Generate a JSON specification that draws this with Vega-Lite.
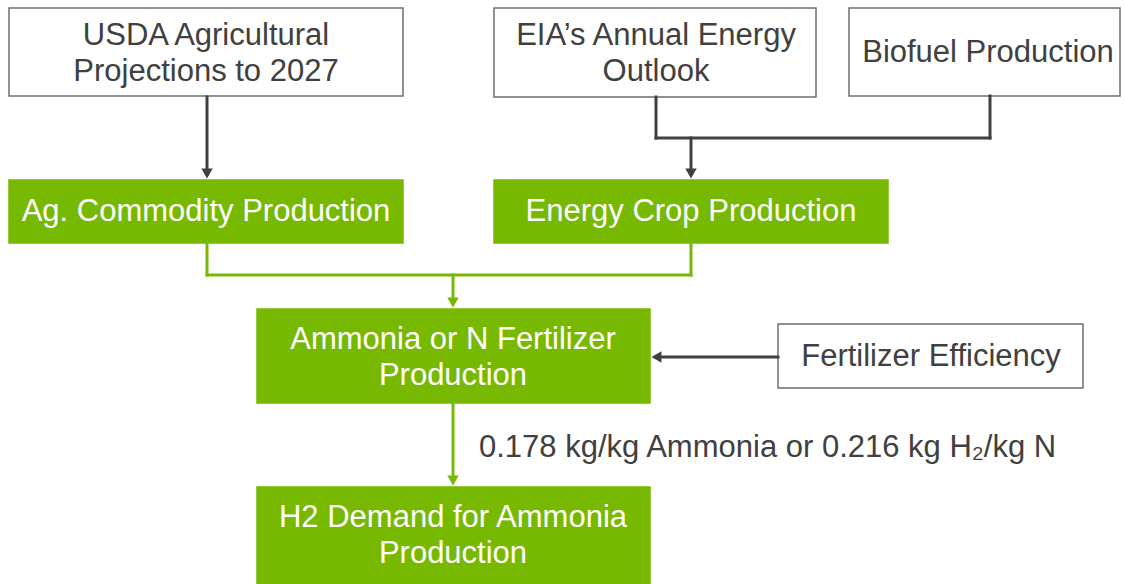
{
  "$schema": "https://vega.github.io/schema/vega-lite/v6.json",
  "width": 1124,
  "height": 584,
  "padding": 0,
  "autosize": {"type": "none"},
  "background": "white",
  "config": {"view": {"stroke": null}},
  "datasets": {
    "boxes": [
      {"name": "USDA", "x1": 9, "x2": 403, "y1": 8, "y2": 96, "kind": "source"},
      {"name": "EIA", "x1": 494, "x2": 816, "y1": 8, "y2": 97, "kind": "source"},
      {"name": "Biofuel", "x1": 849, "x2": 1120, "y1": 8, "y2": 96, "kind": "source"},
      {"name": "Ag", "x1": 9, "x2": 403, "y1": 180, "y2": 243, "kind": "process"},
      {"name": "Energy", "x1": 494, "x2": 888, "y1": 180, "y2": 243, "kind": "process"},
      {"name": "Ammonia", "x1": 257, "x2": 650, "y1": 309, "y2": 403, "kind": "process"},
      {"name": "FertEff", "x1": 778, "x2": 1083, "y1": 324, "y2": 388, "kind": "source"},
      {"name": "H2", "x1": 257, "x2": 650, "y1": 487, "y2": 590, "kind": "process"}
    ],
    "links": [
      {"x1": 207, "y1": 97, "x2": 207, "y2": 174, "kind": "source"},
      {"x1": 656, "y1": 97, "x2": 656, "y2": 138, "kind": "source"},
      {"x1": 990, "y1": 96, "x2": 990, "y2": 138, "kind": "source"},
      {"x1": 656, "y1": 138, "x2": 990, "y2": 138, "kind": "source"},
      {"x1": 691, "y1": 138, "x2": 691, "y2": 174, "kind": "source"},
      {"x1": 778, "y1": 357, "x2": 656, "y2": 357, "kind": "source"},
      {"x1": 207, "y1": 243, "x2": 207, "y2": 275, "kind": "process"},
      {"x1": 691, "y1": 243, "x2": 691, "y2": 275, "kind": "process"},
      {"x1": 207, "y1": 275, "x2": 691, "y2": 275, "kind": "process"},
      {"x1": 453, "y1": 275, "x2": 453, "y2": 303, "kind": "process"},
      {"x1": 453, "y1": 403, "x2": 453, "y2": 481, "kind": "process"}
    ],
    "heads": [
      {"x": 207, "y": 180, "dir": "down", "kind": "source"},
      {"x": 691, "y": 180, "dir": "down", "kind": "source"},
      {"x": 650, "y": 357, "dir": "left", "kind": "source"},
      {"x": 453, "y": 309, "dir": "down", "kind": "process"},
      {"x": 453, "y": 487, "dir": "down", "kind": "process"}
    ],
    "labels": [
      {"label": "USDA Agricultural", "x": 206, "y": 36, "kind": "source"},
      {"label": "Projections to 2027", "x": 206, "y": 72, "kind": "source"},
      {"label": "EIA’s Annual Energy", "x": 656, "y": 36, "kind": "source"},
      {"label": "Outlook", "x": 656, "y": 72, "kind": "source"},
      {"label": "Biofuel Production", "x": 988, "y": 53, "kind": "source"},
      {"label": "Ag. Commodity Production", "x": 206, "y": 212, "kind": "process"},
      {"label": "Energy Crop Production", "x": 691, "y": 212, "kind": "process"},
      {"label": "Ammonia or N Fertilizer", "x": 453, "y": 340, "kind": "process"},
      {"label": "Production", "x": 453, "y": 376, "kind": "process"},
      {"label": "Fertilizer Efficiency", "x": 931, "y": 357, "kind": "source"},
      {"label": "H2 Demand for Ammonia", "x": 453, "y": 518, "kind": "process"},
      {"label": "Production", "x": 453, "y": 554, "kind": "process"}
    ],
    "note": [
      {"label": "0.178 kg/kg Ammonia or 0.216 kg H₂/kg N", "x": 479, "y": 448}
    ]
  },
  "resolve": {"scale": {"fill": "independent", "stroke": "independent", "color": "independent", "shape": "independent"}},
  "layer": [
    {
      "data": {"name": "boxes"},
      "mark": {"type": "rect", "strokeWidth": 1.5},
      "encoding": {
        "x": {"field": "x1", "type": "quantitative", "scale": {"domain": [0, 1124], "nice": false, "zero": false}, "axis": null},
        "x2": {"field": "x2"},
        "y": {"field": "y1", "type": "quantitative", "scale": {"domain": [0, 584], "nice": false, "zero": false, "reverse": true}, "axis": null},
        "y2": {"field": "y2"},
        "fill": {"field": "kind", "type": "nominal", "scale": {"domain": ["source", "process"], "range": ["#ffffff", "#77b900"]}, "legend": null},
        "stroke": {"field": "kind", "type": "nominal", "scale": {"domain": ["source", "process"], "range": ["#6e6e6e", "#77b900"]}, "legend": null}
      }
    },
    {
      "data": {"name": "links"},
      "mark": {"type": "rule", "strokeWidth": 3, "strokeCap": "square"},
      "encoding": {
        "x": {"field": "x1", "type": "quantitative"},
        "x2": {"field": "x2"},
        "y": {"field": "y1", "type": "quantitative"},
        "y2": {"field": "y2"},
        "stroke": {"field": "kind", "type": "nominal", "scale": {"domain": ["source", "process"], "range": ["#404040", "#77b900"]}, "legend": null}
      }
    },
    {
      "data": {"name": "heads"},
      "transform": [{"filter": "datum.dir === 'down'"}],
      "mark": {"type": "point", "shape": "triangle-down", "filled": true, "opacity": 1, "size": 130, "yOffset": -6.5},
      "encoding": {
        "x": {"field": "x", "type": "quantitative"},
        "y": {"field": "y", "type": "quantitative"},
        "color": {"field": "kind", "type": "nominal", "scale": {"domain": ["source", "process"], "range": ["#404040", "#77b900"]}, "legend": null}
      }
    },
    {
      "data": {"name": "heads"},
      "transform": [{"filter": "datum.dir === 'left'"}],
      "mark": {"type": "point", "shape": "triangle-left", "filled": true, "opacity": 1, "size": 130, "xOffset": 6.5, "color": "#404040"},
      "encoding": {
        "x": {"field": "x", "type": "quantitative"},
        "y": {"field": "y", "type": "quantitative"}
      }
    },
    {
      "data": {"name": "labels"},
      "mark": {"type": "text", "font": "Liberation Sans", "fontSize": 31, "align": "center", "baseline": "middle"},
      "encoding": {
        "x": {"field": "x", "type": "quantitative"},
        "y": {"field": "y", "type": "quantitative"},
        "text": {"field": "label"},
        "fill": {"field": "kind", "type": "nominal", "scale": {"domain": ["source", "process"], "range": ["#404040", "#ffffff"]}, "legend": null}
      }
    },
    {
      "data": {"name": "note"},
      "mark": {"type": "text", "font": "Liberation Sans", "fontSize": 31, "align": "left", "baseline": "middle", "color": "#404040"},
      "encoding": {
        "x": {"field": "x", "type": "quantitative"},
        "y": {"field": "y", "type": "quantitative"},
        "text": {"field": "label"}
      }
    }
  ]
}
